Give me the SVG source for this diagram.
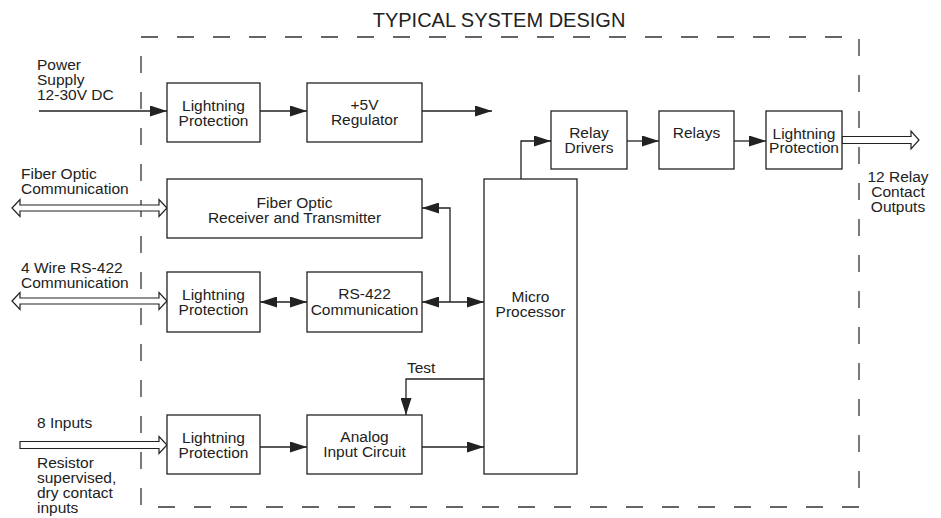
<svg xmlns="http://www.w3.org/2000/svg" width="941" height="518" viewBox="0 0 941 518">
<style>
text{font-family:"Liberation Sans",Arial,sans-serif;font-size:15.5px;fill:#222}
.c{text-anchor:middle}
.box{fill:#fff;stroke:#222;stroke-width:1.3}
.ln{fill:none;stroke:#222;stroke-width:1.3}
.hol{fill:#fff;stroke:#222;stroke-width:1.2;stroke-linejoin:miter}
.dash{fill:none;stroke:#333;stroke-width:1.3;stroke-dasharray:17 19}
</style>
<defs>
<marker id="ah" markerUnits="userSpaceOnUse" markerWidth="17" markerHeight="11" refX="17" refY="5.5" orient="auto-start-reverse">
<path d="M0,0 L17,5.5 L0,11 z" fill="#222"/>
</marker>
</defs>
<rect x="0" y="0" width="941" height="518" fill="#fff"/>
<text x="499" y="27" class="c" style="font-size:20px">TYPICAL SYSTEM DESIGN</text>
<rect id="boundary" class="dash" x="141" y="37" width="718" height="470"/>

<g id="connectors">
<line class="ln" x1="39" y1="111" x2="167" y2="111" marker-end="url(#ah)"/>
<line class="ln" x1="260" y1="111" x2="307" y2="111" marker-end="url(#ah)"/>
<line class="ln" x1="422" y1="111" x2="492" y2="111" marker-end="url(#ah)"/>
<path class="ln" d="M521,179 V141 H551" marker-end="url(#ah)"/>
<line class="ln" x1="627" y1="141" x2="659" y2="141" marker-end="url(#ah)"/>
<line class="ln" x1="734" y1="141" x2="766" y2="141" marker-end="url(#ah)"/>
<line class="ln" x1="260" y1="302" x2="307" y2="302" marker-start="url(#ah)" marker-end="url(#ah)"/>
<line class="ln" x1="422" y1="302" x2="484" y2="302" marker-start="url(#ah)" marker-end="url(#ah)"/>
<path class="ln" d="M450,302 V208 H422" marker-end="url(#ah)"/>
<path class="ln" d="M484,379 H406 V415" marker-end="url(#ah)"/>
<line class="ln" x1="260" y1="447" x2="307" y2="447" marker-end="url(#ah)"/>
<line class="ln" x1="422" y1="447" x2="484" y2="447" marker-end="url(#ah)"/>
<polygon class="hol" points="842,136.5 911,136.5 911,131 919,140 911,149 911,143.5 842,143.5"/>
<polygon class="hol" points="12,208 20,199.5 20,205 159,205 159,199.5 167,208 159,216.5 159,211 20,211 20,216.5"/>
<polygon class="hol" points="12,301 20,292.5 20,298 159,298 159,292.5 167,301 159,309.5 159,304 20,304 20,309.5"/>
<polygon class="hol" points="20,441.5 159,441.5 159,436.5 167,445 159,453.5 159,448.5 20,448.5"/>
</g>

<g id="lp-power"><rect class="box" x="167" y="83" width="93" height="59"/><text class="c" x="213.5" y="111">Lightning</text><text class="c" x="213.5" y="126">Protection</text></g>
<g id="regulator"><rect class="box" x="307" y="83" width="115" height="59"/><text class="c" x="364.5" y="110">+5V</text><text class="c" x="364.5" y="125">Regulator</text></g>
<g id="relay-drivers"><rect class="box" x="551" y="111" width="76" height="58"/><text class="c" x="589" y="138">Relay</text><text class="c" x="589" y="153">Drivers</text></g>
<g id="relays"><rect class="box" x="659" y="111" width="75" height="58"/><text class="c" x="696.5" y="138">Relays</text></g>
<g id="lp-out"><rect class="box" x="766" y="111" width="76" height="58"/><text class="c" x="804" y="139">Lightning</text><text class="c" x="804" y="153">Protection</text></g>
<g id="fiber"><rect class="box" x="167" y="179" width="255" height="59"/><text class="c" x="294.5" y="208">Fiber Optic</text><text class="c" x="294.5" y="223">Receiver and Transmitter</text></g>
<g id="lp-rs"><rect class="box" x="167" y="272" width="93" height="60"/><text class="c" x="213.5" y="300">Lightning</text><text class="c" x="213.5" y="315">Protection</text></g>
<g id="rs422"><rect class="box" x="307" y="272" width="115" height="60"/><text class="c" x="364.5" y="299">RS-422</text><text class="c" x="364.5" y="315">Communication</text></g>
<g id="micro"><rect class="box" x="484" y="179" width="93" height="295"/><text class="c" x="530.5" y="302">Micro</text><text class="c" x="530.5" y="317">Processor</text></g>
<g id="lp-in"><rect class="box" x="167" y="415" width="93" height="59"/><text class="c" x="213.5" y="443">Lightning</text><text class="c" x="213.5" y="458">Protection</text></g>
<g id="analog"><rect class="box" x="307" y="415" width="115" height="59"/><text class="c" x="364.5" y="442">Analog</text><text class="c" x="364.5" y="457">Input Circuit</text></g>

<g id="labels">
<text x="37" y="70">Power</text><text x="37" y="85">Supply</text><text x="37" y="100">12-30V DC</text>
<text x="21" y="179">Fiber Optic</text><text x="21" y="194">Communication</text>
<text x="21" y="273">4 Wire RS-422</text><text x="21" y="288">Communication</text>
<text x="37" y="428">8 Inputs</text>
<text x="37" y="468">Resistor</text><text x="37" y="483">supervised,</text><text x="37" y="498">dry contact</text><text x="37" y="513">inputs</text>
<text x="407" y="373">Test</text>
<text class="c" x="898" y="182">12 Relay</text><text class="c" x="898" y="197">Contact</text><text class="c" x="898" y="212">Outputs</text>
</g>
</svg>
